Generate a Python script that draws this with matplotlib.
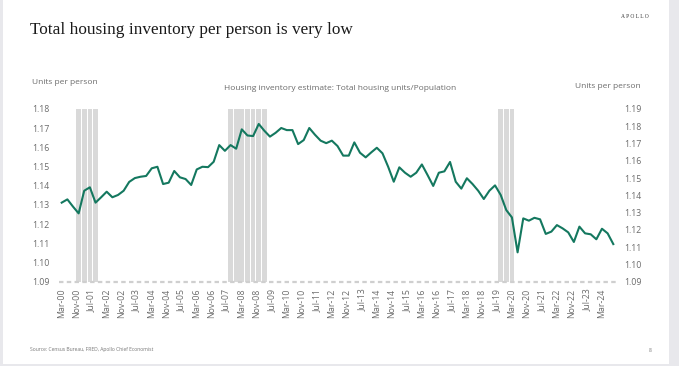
import numpy as np
import pandas as pd
import matplotlib
matplotlib.use("Agg")
import matplotlib.pyplot as plt
import matplotlib.dates as mdates
from matplotlib.patches import Rectangle

# quarterly estimate, Mar-00 .. Sep-24
start_date = "2000-03-01"
units_per_person = [
    1.1312, 1.1329, 1.1291, 1.1256, 1.1374, 1.1392, 1.1312, 1.1340, 1.1369, 1.1340,
    1.1352, 1.1374, 1.1420, 1.1440, 1.1447, 1.1451, 1.1491, 1.1499, 1.1409, 1.1416,
    1.1477, 1.1444, 1.1435, 1.1404, 1.1485, 1.1499, 1.1497, 1.1525, 1.1612, 1.1582,
    1.1612, 1.1593, 1.1694, 1.1662, 1.1659, 1.1722, 1.1687, 1.1656, 1.1676, 1.1701,
    1.1690, 1.1690, 1.1617, 1.1638, 1.1701, 1.1666, 1.1635, 1.1622, 1.1635, 1.1607,
    1.1557, 1.1557, 1.1626, 1.1572, 1.1548, 1.1574, 1.1598, 1.1569, 1.1499, 1.1421,
    1.1496, 1.1468, 1.1447, 1.1468, 1.1511, 1.1456, 1.1399, 1.1468, 1.1475, 1.1524,
    1.1421, 1.1385, 1.1439, 1.1409, 1.1374, 1.1331, 1.1374, 1.1402, 1.1352, 1.1273,
    1.1235, 1.1053, 1.1230, 1.1218, 1.1233, 1.1225, 1.1149, 1.1161, 1.1195, 1.1178,
    1.1157, 1.1107, 1.1187, 1.1152, 1.1147, 1.1121, 1.1176, 1.1152, 1.1096,
]
recession_quarters = [
    "2000-12-01", "2001-03-01", "2001-06-01", "2001-09-01",
    "2007-09-01", "2007-12-01", "2008-03-01", "2008-06-01", "2008-09-01",
    "2008-12-01", "2009-03-01",
    "2019-09-01", "2019-12-01", "2020-03-01",
]
left_ticks = [1.09, 1.10, 1.11, 1.12, 1.13, 1.14, 1.15, 1.16, 1.17, 1.18]
right_ticks = [1.09, 1.10, 1.11, 1.12, 1.13, 1.14, 1.15, 1.16, 1.17, 1.18, 1.19]

dates = pd.date_range(start_date, periods=len(units_per_person), freq="3MS")
tick_dates = pd.date_range(start_date, "2024-03-01", freq="8MS")
rec_dates = pd.to_datetime(recession_quarters)

W, H = 679, 366
fig = plt.figure(figsize=(W / 100, H / 100), dpi=100)
fig.patch.set_facecolor("#e8e8ec")
# white slide card
fig.patches.append(Rectangle((3 / W, 2 / H), 666 / W, 1 - 2 / H, transform=fig.transFigure,
                             facecolor="white", edgecolor="none", zorder=-5))

sans = ["Open Sans", "DejaVu Sans"]
grey = "#6b6b6b"

fig.text(30 / W, 1 - 30 / H, "Total housing inventory per person is very low",
         family=["Liberation Serif", "DejaVu Serif"], fontsize=12.4, color="#1a1a1a",
         va="center", ha="left")
fig.text(649 / W, 1 - 16 / H, "A P O L L O", family=["Liberation Serif"], fontsize=4,
         color="#333333", ha="right", va="center")
fig.text(32 / W, 1 - 82 / H, "Units per person", family=sans, fontsize=6, color=grey,
         ha="left", va="center")
fig.text(340 / W, 1 - 88 / H, "Housing inventory estimate: Total housing units/Population",
         family=sans, fontsize=6, color=grey, ha="center", va="center")
fig.text(641 / W, 1 - 86 / H, "Units per person", family=sans, fontsize=6, color=grey,
         ha="right", va="center")
fig.text(30 / W, 1 - 350 / H, "Source: Census Bureau, FRED, Apollo Chief Economist",
         family=sans, fontsize=3.6, color="#777777", ha="left", va="center")
fig.text(650 / W, 1 - 350 / H, "8", family=sans, fontsize=3.6, color="#777777",
         ha="center", va="center")

ax_l, ax_r = 59 / W, 616 / W
ax = fig.add_axes([ax_l, 1 - 281.7 / H, ax_r - ax_l, (281.7 - 109) / H])
ax.set_facecolor("none")

x0 = mdates.date2num(dates[0])
x1 = mdates.date2num(dates[-1])
per_px = (x1 - x0) / (613.3 - 61.7)
ax.set_xlim(x0 - (61.7 - 59) * per_px, x1 + (616 - 613.3) * per_px)
ax.set_ylim(1.09, 1.18)

ax.bar(rec_dates, [1.18 - 1.09] * len(rec_dates), bottom=1.09, width=76,
       color="#d9d9d9", zorder=1)
ax.plot(dates, units_per_person, color="#14785f", lw=1.5, zorder=3)
ax.axhline(1.09, color="#cfcfcf", lw=1.6, ls=(0, (2, 1.5)), zorder=2, clip_on=False)

ax.set_yticks(left_ticks)
ax.set_yticklabels([f"{v:.2f}" for v in left_ticks])
ax.set_xticks(tick_dates)
ax.xaxis.set_major_formatter(mdates.DateFormatter("%b-%y"))
ax.tick_params(axis="x", rotation=90, length=0, pad=5, labelsize=6.3, labelcolor=grey)
ax.tick_params(axis="y", length=0, pad=7, labelsize=6.3, labelcolor=grey)
for lab in ax.get_xticklabels() + ax.get_yticklabels():
    lab.set_family(sans)
for s in ax.spines.values():
    s.set_visible(False)

ax2 = ax.twinx()
ax2.set_ylim(1.09, 1.19)
ax2.set_yticks(right_ticks)
ax2.set_yticklabels([f"{v:.2f}" for v in right_ticks])
ax2.tick_params(axis="y", length=0, pad=6, labelsize=6.3, labelcolor=grey)
for lab in ax2.get_yticklabels():
    lab.set_family(sans)
for s in ax2.spines.values():
    s.set_visible(False)

fig.savefig("out.png", dpi=100, facecolor=fig.get_facecolor())
